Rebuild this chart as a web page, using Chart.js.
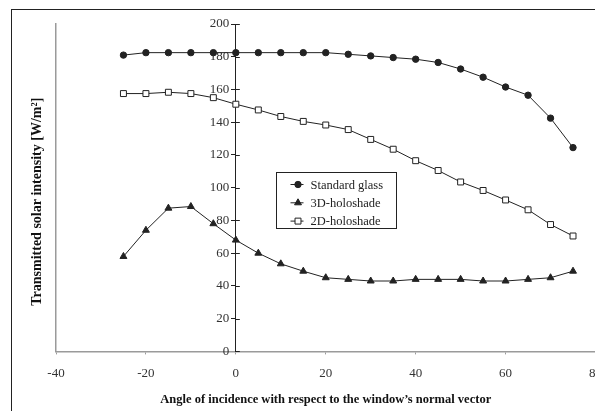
<!DOCTYPE html>
<html>
<head>
<meta charset="utf-8">
<script src="https://cdn.jsdelivr.net/npm/chart.js@4.4.1/dist/chart.umd.min.js"></script>
<style>
  html, body { margin: 0; padding: 0; background: #fff; overflow: hidden; }
  #frame { position: absolute; left: 11px; top: 9px; width: 700px; height: 500px;
           border-left: 1.5px solid #222; border-top: 1.5px solid #222; }
  #wrap { position: absolute; left: 0; top: 0; width: 613px; height: 411px; }
</style>
</head>
<body>
<div id="frame"></div>
<div id="wrap"><canvas id="chart"></canvas></div>
<script>
'use strict';

// Angle of incidence (degrees), every 5 from -25 to 75
const ANGLES = [-25, -20, -15, -10, -5, 0, 5, 10, 15, 20, 25, 30, 35, 40, 45, 50, 55, 60, 65, 70, 75];

// Transmitted solar intensity [W/m2]
const STANDARD_GLASS = [181, 182.5, 182.5, 182.5, 182.5, 182.5, 182.5, 182.5, 182.5, 182.5, 181.5, 180.5, 179.5, 178.5, 176.5, 172.5, 167.5, 161.5, 156.5, 142.5, 124.5];
const HOLO_3D = [58, 74, 87.5, 88.5, 78, 68, 60, 53.5, 49, 45, 44, 43, 43, 44, 44, 44, 43, 43, 44, 45, 49];
const HOLO_2D = [157.5, 157.5, 158.3, 157.5, 155, 151, 147.5, 143.5, 140.5, 138.3, 135.5, 129.5, 123.5, 116.5, 110.5, 103.5, 98.3, 92.5, 86.5, 77.5, 70.5];

const X_TICKS = [-40, -20, 0, 20, 40, 60, 80];
const Y_TICKS = [0, 20, 40, 60, 80, 100, 120, 140, 160, 180, 200];

const SERIF = "'Liberation Serif', 'Times New Roman', serif";
const INK = '#222';
const FRAME_GREY = '#9a9a9a';

const points = values => ANGLES.map((a, i) => ({ x: a, y: values[i] }));

/* ── y-axis sits at x = 0: extend its tick marks to the right side too ── */
const crossTicks = {
  id: 'crossTicks',
  afterDraw(chart) {
    const y = chart.scales.y;
    const x0 = chart.scales.x.getPixelForValue(0);
    const ctx = chart.ctx;
    ctx.save();
    ctx.strokeStyle = INK;
    ctx.lineWidth = 1;
    Y_TICKS.forEach(v => {
      const py = Math.round(y.getPixelForValue(v)) + 0.5;
      ctx.beginPath();
      ctx.moveTo(x0, py);
      ctx.lineTo(x0 + 4, py);
      ctx.stroke();
    });
    ctx.restore();
  },
};

/* ── legend box inside the plot, drawn from the datasets' own styling ── */
const boxLegend = {
  id: 'boxLegend',
  afterDraw(chart) {
    const ctx = chart.ctx;
    const left = 276.5, top = 172.5, w = 120, h = 56;
    ctx.save();
    ctx.fillStyle = '#fff';
    ctx.fillRect(left, top, w, h);
    ctx.strokeStyle = INK;
    ctx.lineWidth = 1;
    ctx.strokeRect(left, top, w, h);
    ctx.font = `12.5px ${SERIF}`;
    ctx.textBaseline = 'middle';
    chart.data.datasets.forEach((ds, i) => {
      const cy = top + 12 + i * 18.3;
      ctx.strokeStyle = INK;
      ctx.beginPath();
      ctx.moveTo(left + 14, cy);
      ctx.lineTo(left + 27, cy);
      ctx.stroke();
      ctx.fillStyle = ds.pointBackgroundColor;
      Chart.helpers.drawPoint(ctx, {
        pointStyle: ds.pointStyle,
        radius: ds.pointRadius,
        borderWidth: 1,
      }, left + 21.5, cy);
      ctx.fillStyle = INK;
      ctx.fillText(ds.label, left + 34, cy + 1);
    });
    ctx.restore();
  },
};

function series(label, values, style, radius, fill) {
  return {
    label,
    data: points(values),
    yAxisID: 'y',
    showLine: true,
    borderColor: INK,
    borderWidth: 1,
    pointStyle: style,
    pointRadius: radius,
    pointHoverRadius: radius,
    pointBackgroundColor: fill,
    pointBorderColor: INK,
    pointBorderWidth: 1,
    tension: 0,
  };
}

new Chart(document.getElementById('chart'), {
  type: 'scatter',
  data: {
    datasets: [
      series('Standard glass', STANDARD_GLASS, 'circle', 3.2, INK),
      series('3D-holoshade', HOLO_3D, 'triangle', 4, INK),
      series('2D-holoshade', HOLO_2D, 'rect', 4.2, '#fff'),
    ],
  },
  options: {
    responsive: true,
    maintainAspectRatio: false,
    animation: false,
    layout: { padding: { left: 25, top: 24, right: 0, bottom: 2 } },
    plugins: { legend: { display: false }, tooltip: { enabled: false } },
    scales: {
      x: {
        type: 'linear',
        min: -40,
        max: 80,
        afterBuildTicks: s => { s.ticks = X_TICKS.map(v => ({ value: v })); },
        grid: { display: true, drawOnChartArea: false, drawTicks: true, tickLength: 3, color: FRAME_GREY },
        border: { color: FRAME_GREY, width: 1.5 },
        ticks: { color: '#333', padding: 11, font: { family: SERIF, size: 13 } },
        title: {
          display: true,
          text: 'Angle of incidence with respect to the window\u2019s normal vector',
          color: '#111',
          font: { family: SERIF, size: 12.5, weight: 'bold' },
          padding: { top: 0, bottom: 2 },
        },
      },
      y: {
        type: 'linear',
        min: 0,
        max: 200,
        position: { x: 0 },
        afterBuildTicks: s => { s.ticks = Y_TICKS.map(v => ({ value: v })); },
        grid: { display: true, drawOnChartArea: false, drawTicks: true, tickLength: 4, color: INK },
        border: { color: INK, width: 1 },
        // an axis placed at a value ignores tick padding, so keep the gap with an en space
        ticks: { color: '#333', font: { family: SERIF, size: 13 }, callback: v => `${v}\u2002` },
      },
      frame: {
        type: 'linear',
        position: 'left',
        min: 0,
        max: 200,
        grid: { display: false },
        border: { color: FRAME_GREY, width: 1.5 },
        ticks: { display: false },
        afterFit: s => { s.width = 31; },
        title: {
          display: true,
          // trailing spaces push the visible text down, as in the original
          text: 'Transmitted solar intensity [W/m\u00b2]        ',
          color: '#111',
          font: { family: SERIF, size: 14, weight: 'bold' },
          padding: { top: 4, bottom: 4 },
        },
      },
    },
  },
  plugins: [crossTicks, boxLegend],
});
</script>
</body>
</html>
